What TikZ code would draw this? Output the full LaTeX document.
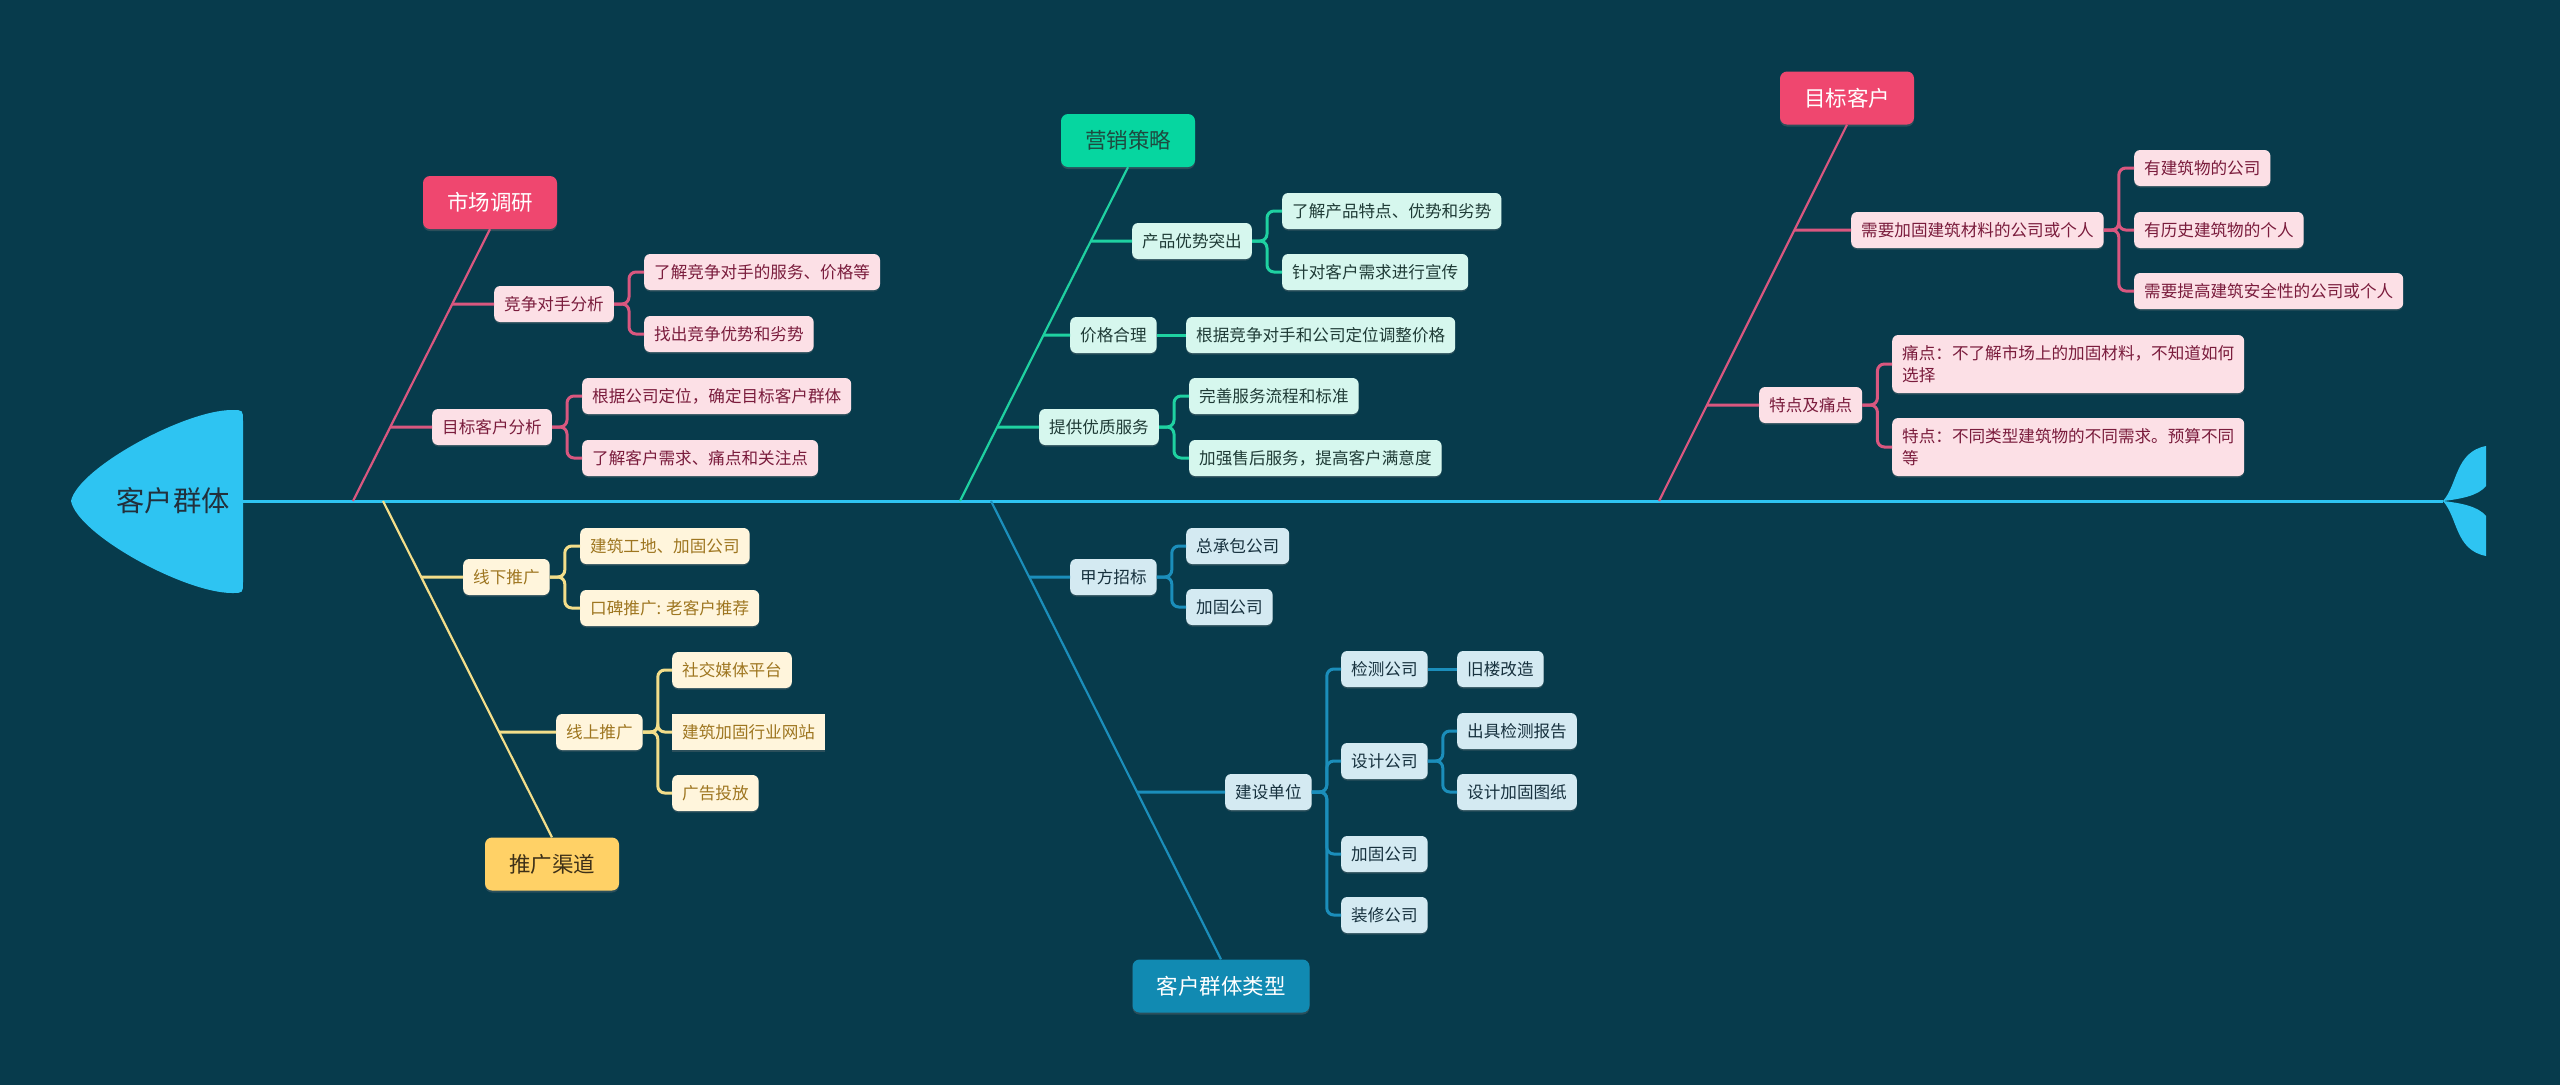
\documentclass[tikz,border=0pt]{standalone}
\usepackage{fontspec}
\newfontfamily\cjk{Noto Sans CJK SC}
\usepackage{tikz}
\usetikzlibrary{shadows}
\definecolor{bgteal}{HTML}{073B4C}
\definecolor{spineblue}{HTML}{2EC4F2}
\definecolor{headtext}{HTML}{22303C}
\definecolor{rosered}{HTML}{EF476F}
\definecolor{roseln}{HTML}{D9577F}
\definecolor{rosefill}{HTML}{FCE0E6}
\definecolor{rosetext}{HTML}{7A1C3C}
\definecolor{mintgreen}{HTML}{06D6A0}
\definecolor{minttopic}{HTML}{1E4A40}
\definecolor{mintln}{HTML}{1FD1A1}
\definecolor{mintfill}{HTML}{D6F7EE}
\definecolor{minttext}{HTML}{1F3B36}
\definecolor{sunyellow}{HTML}{FFD166}
\definecolor{suntopic}{HTML}{3D3018}
\definecolor{sunln}{HTML}{F3DE8A}
\definecolor{sunfill}{HTML}{FFF5DC}
\definecolor{suntext}{HTML}{9E7620}
\definecolor{seablue}{HTML}{118AB2}
\definecolor{sealn}{HTML}{1B8EBB}
\definecolor{seafill}{HTML}{D4EAF2}
\definecolor{seatext}{HTML}{17313E}
\tikzset{
  spineln/.style  = {spineblue, line width=3pt},
  bone/.style     = {line width=2.2pt},
  twig/.style     = {line width=3pt, rounded corners=7pt},
  topic/.style    = {rounded corners=7pt, minimum height=53pt, inner xsep=24pt,
                     inner ysep=0pt, font=\cjk\fontsize{21.5}{26}\selectfont,
                     drop shadow={shadow xshift=0pt, shadow yshift=-2pt, opacity=.3}},
  subtopic/.style = {rounded corners=6pt, minimum height=36pt, inner xsep=10pt,
                     inner ysep=0pt, anchor=west, font=\cjk\fontsize{16.6}{21.7}\selectfont,
                     drop shadow={shadow xshift=0pt, shadow yshift=-1.5pt, opacity=.3}},
  rosesub/.style  = {subtopic, fill=rosefill, text=rosetext},
  mintsub/.style  = {subtopic, fill=mintfill, text=minttext},
  sunsub/.style   = {subtopic, fill=sunfill, text=suntext},
  seasub/.style   = {subtopic, fill=seafill, text=seatext}
}

\begin{document}
\begin{tikzpicture}[x=1pt, y=-1pt]
  % --- canvas -------------------------------------------------------------
  \useasboundingbox (0,0) rectangle (2560,1085);
  \fill[bgteal] (0,0) rectangle (2560,1085);

  % --- head, spine and tail ------------------------------------------------
  \coordinate (headR) at (243,501);
  \coordinate (tailP) at (2443,501);
  \fill[spineblue] (71,501) .. controls (78,468) and (185,410) .. (232,410)
        .. controls (243,410) .. (243,421) -- (243,582)
        .. controls (243,593) .. (232,593)
        .. controls (185,593) and (78,535) .. (71,501) -- cycle;
  \node[font=\cjk\fontsize{28.3}{32}\selectfont, text=headtext] (head) at (173,501) {客户群体};
  \draw[spineln] (headR) -- (tailP);
  \fill[spineblue] (tailP) .. controls (2458,484) and (2455,452) .. (2486,446)
        -- (2486,486) .. controls (2478,496) and (2460,499) .. (tailP);
  \fill[spineblue] (tailP) .. controls (2458,518) and (2455,550) .. (2486,556)
        -- (2486,516) .. controls (2478,506) and (2460,503) .. (tailP);

  % where the bones leave the spine
  \coordinate (marketbase)   at (353,501);
  \coordinate (channelbase)  at (383,501);
  \coordinate (strategybase) at (960,501);
  \coordinate (typesbase)    at (991,501);
  \coordinate (targetbase)   at (1659,501);

  % --- market research (pink, top) -----------------------------------------
  \node[topic, fill=rosered, text=white] (market) at (490,202.5) {市场调研};
  \node[rosesub] (rival)      at (494,304) {竞争对手分析};
  \node[rosesub] (rival1)     at (644,272) {了解竞争对手的服务、价格等};
  \node[rosesub] (rival2)     at (644,334) {找出竞争优势和劣势};
  \node[rosesub] (clientana)  at (432,427) {目标客户分析};
  \node[rosesub] (clientana1) at (582,396) {根据公司定位，确定目标客户群体};
  \node[rosesub] (clientana2) at (582,458) {了解客户需求、痛点和关注点};
  \draw[roseln, bone] (marketbase) -- (market.south);
  \foreach \p in {rival, clientana}
    \draw[roseln, twig] (intersection of marketbase--market.south and \p.west--\p.east) -- (\p.west);
  \foreach \c in {rival1, rival2}
    \draw[roseln, twig] (rival.east) -- ++(15,0) |- (\c.west);
  \foreach \c in {clientana1, clientana2}
    \draw[roseln, twig] (clientana.east) -- ++(15,0) |- (\c.west);

  % --- promotion channels (yellow, bottom) ---------------------------------
  \node[topic, fill=sunyellow, text=suntopic] (channel) at (552,864) {推广渠道};
  \node[sunsub] (offline)  at (463,577) {线下推广};
  \node[sunsub] (offline1) at (580,546) {建筑工地、加固公司};
  \node[sunsub] (offline2) at (580,608) {口碑推广: 老客户推荐};
  \node[sunsub] (online)   at (556,732) {线上推广};
  \node[sunsub] (online1)  at (672,670) {社交媒体平台};
  \node[sunsub, sharp corners] (online2) at (672,732) {建筑加固行业网站};
  \node[sunsub] (online3)  at (672,793) {广告投放};
  \draw[sunln, bone] (channelbase) -- (channel.north);
  \foreach \p in {offline, online}
    \draw[sunln, twig] (intersection of channelbase--channel.north and \p.west--\p.east) -- (\p.west);
  \foreach \c in {offline1, offline2}
    \draw[sunln, twig] (offline.east) -- ++(15,0) |- (\c.west);
  \foreach \c in {online1, online2, online3}
    \draw[sunln, twig] (online.east) -- ++(15,0) |- (\c.west);

  % --- marketing strategy (green, top) -------------------------------------
  \node[topic, fill=mintgreen, text=minttopic] (strategy) at (1128,140.5) {营销策略};
  \node[mintsub] (advantage)  at (1132,241) {产品优势突出};
  \node[mintsub] (advantage1) at (1282,211) {了解产品特点、优势和劣势};
  \node[mintsub] (advantage2) at (1282,272) {针对客户需求进行宣传};
  \node[mintsub] (pricing)    at (1070,335) {价格合理};
  \node[mintsub] (pricing1)   at (1186,335) {根据竞争对手和公司定位调整价格};
  \node[mintsub] (service)    at (1039,427) {提供优质服务};
  \node[mintsub] (service1)   at (1189,396) {完善服务流程和标准};
  \node[mintsub] (service2)   at (1189,458) {加强售后服务，提高客户满意度};
  \draw[mintln, bone] (strategybase) -- (strategy.south);
  \foreach \p in {advantage, pricing, service}
    \draw[mintln, twig] (intersection of strategybase--strategy.south and \p.west--\p.east) -- (\p.west);
  \foreach \c in {advantage1, advantage2}
    \draw[mintln, twig] (advantage.east) -- ++(15,0) |- (\c.west);
  \draw[mintln, twig] (pricing.east) -- (pricing1.west);
  \foreach \c in {service1, service2}
    \draw[mintln, twig] (service.east) -- ++(15,0) |- (\c.west);

  % --- customer types (blue, bottom) ---------------------------------------
  \node[topic, fill=seablue, text=white] (types) at (1221,986) {客户群体类型};
  \node[seasub] (tender)    at (1070,577) {甲方招标};
  \node[seasub] (tender1)   at (1186,546) {总承包公司};
  \node[seasub] (tender2)   at (1186,607) {加固公司};
  \node[seasub] (builder)   at (1225,792) {建设单位};
  \node[seasub] (inspect)   at (1341,669) {检测公司};
  \node[seasub] (inspect1)  at (1457,669) {旧楼改造};
  \node[seasub] (design)    at (1341,761) {设计公司};
  \node[seasub] (design1)   at (1457,731) {出具检测报告};
  \node[seasub] (design2)   at (1457,792) {设计加固图纸};
  \node[seasub] (reinforce) at (1341,854) {加固公司};
  \node[seasub] (decor)     at (1341,915) {装修公司};
  \draw[sealn, bone] (typesbase) -- (types.north);
  \foreach \p in {tender, builder}
    \draw[sealn, twig] (intersection of typesbase--types.north and \p.west--\p.east) -- (\p.west);
  \foreach \c in {tender1, tender2}
    \draw[sealn, twig] (tender.east) -- ++(15,0) |- (\c.west);
  \foreach \c in {inspect, design, reinforce, decor}
    \draw[sealn, twig] (builder.east) -- ++(15,0) |- (\c.west);
  \draw[sealn, twig] (inspect.east) -- (inspect1.west);
  \foreach \c in {design1, design2}
    \draw[sealn, twig] (design.east) -- ++(15,0) |- (\c.west);

  % --- target customers (pink, top) ----------------------------------------
  \node[topic, fill=rosered, text=white] (target) at (1847,98) {目标客户};
  \node[rosesub] (needs)  at (1851,230) {需要加固建筑材料的公司或个人};
  \node[rosesub] (needs1) at (2134,168) {有建筑物的公司};
  \node[rosesub] (needs2) at (2134,230) {有历史建筑物的个人};
  \node[rosesub] (needs3) at (2134,291) {需要提高建筑安全性的公司或个人};
  \node[rosesub] (traits) at (1759,405) {特点及痛点};
  \node[rosesub, align=left, minimum height=58pt] (traits1) at (1892,364)
       {痛点：不了解市场上的加固材料，不知道如何\\选择};
  \node[rosesub, align=left, minimum height=58pt] (traits2) at (1892,447)
       {特点：不同类型建筑物的不同需求。预算不同\\等};
  \draw[roseln, bone] (targetbase) -- (target.south);
  \foreach \p in {needs, traits}
    \draw[roseln, twig] (intersection of targetbase--target.south and \p.west--\p.east) -- (\p.west);
  \foreach \c in {needs1, needs2, needs3}
    \draw[roseln, twig] (needs.east) -- ++(15,0) |- (\c.west);
  \foreach \c in {traits1, traits2}
    \draw[roseln, twig] (traits.east) -- ++(15,0) |- (\c.west);
\end{tikzpicture}
\end{document}
